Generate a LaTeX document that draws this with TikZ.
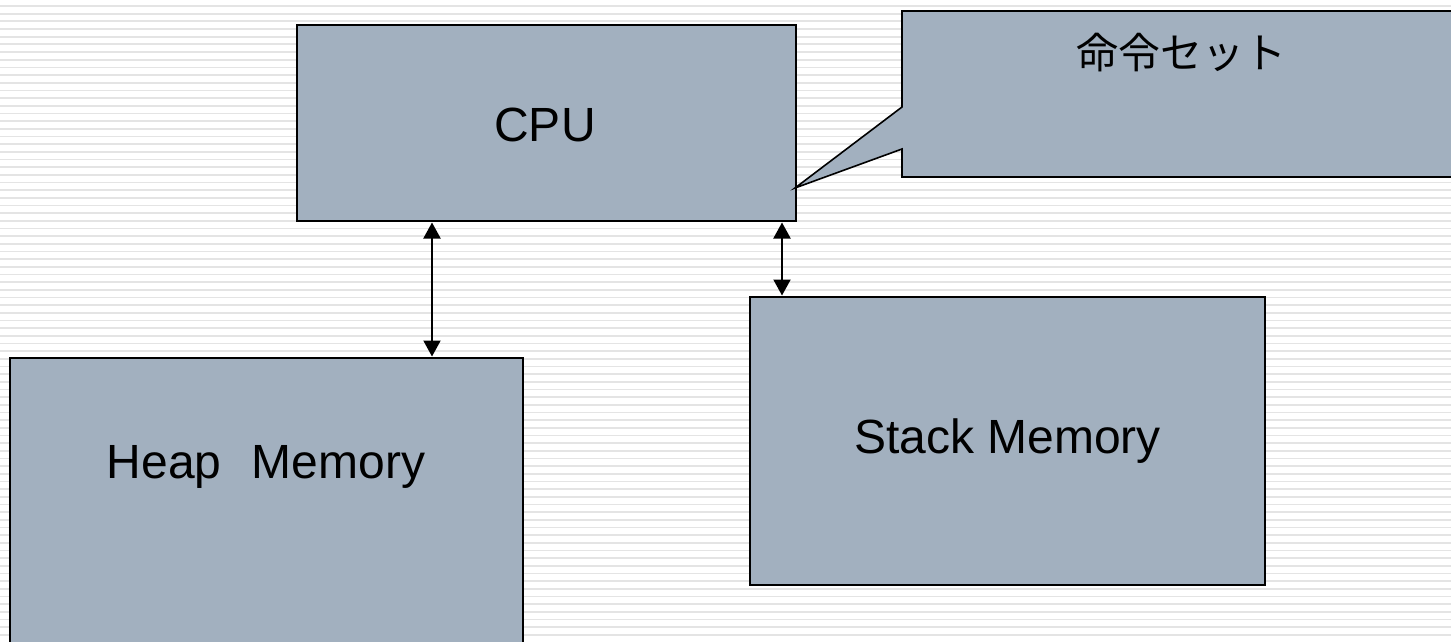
\documentclass[tikz,border=0pt]{standalone}
\usepackage{fontspec}
\setmainfont{Liberation Sans}
\newfontfamily\cjkfont{Noto Sans CJK JP}
\usetikzlibrary{arrows.meta}
\definecolor{boxfill}{RGB}{162,176,191}
\definecolor{stripe}{RGB}{228,228,228}
\tikzset{
  blockbox/.style={draw=black, line width=2pt, fill=boxfill, inner sep=0pt},
  blocktext/.style={font=\fontsize{48}{54}\selectfont, inner sep=0pt},
  biarrow/.style={line width=2pt, {Triangle[width=17pt,length=16pt]}-{Triangle[width=17pt,length=16pt]}, shorten <=0.5pt, shorten >=0.5pt},
}
\begin{document}
\begin{tikzpicture}[x=1pt,y=-1pt]
\useasboundingbox (0,0) rectangle (1451,642);
\clip (0,0) rectangle (1451,642);
\fill[white] (0,0) rectangle (1451,642);
\foreach \i in {0,...,83} {
  \draw[stripe, line width=1.7pt] (0,6+\i*7.67) -- (1451,6+\i*7.67);
}
% CPU
\node[blockbox, minimum width=499pt, minimum height=196pt] (cpu) at (546.5,123) {};
\node[blocktext] (cputext) at (545,125) {CPU};
% Heap
\node[blockbox, minimum width=513pt, minimum height=320pt] (heap) at (266.5,518) {};
\node[blocktext] (heaptext) at (266,467) {Heap\hspace{30pt}Memory};
% Stack
\node[blockbox, minimum width=515pt, minimum height=288pt] (stack) at (1007.5,441) {};
\node[blocktext] (stacktext) at (stack.center) {Stack Memory};
% Callout
\coordinate (tip) at (795,188);
\draw[line width=1.6pt, fill=boxfill, line join=miter]
  (902,11) -- (1461,11) -- (1461,177) -- (902,177) -- (902,149) -- (tip) -- (902,107) -- cycle;
\node[font=\cjkfont\fontsize{42}{48}\selectfont, inner sep=0pt] (isa) at (1181,53) {命令セット};
% arrows
\draw[biarrow] (cpu.south -| 432,0) -- (heap.north -| 432,0);
\draw[biarrow] (cpu.south -| 782,0) -- (stack.north -| 782,0);
\end{tikzpicture}
\end{document}
